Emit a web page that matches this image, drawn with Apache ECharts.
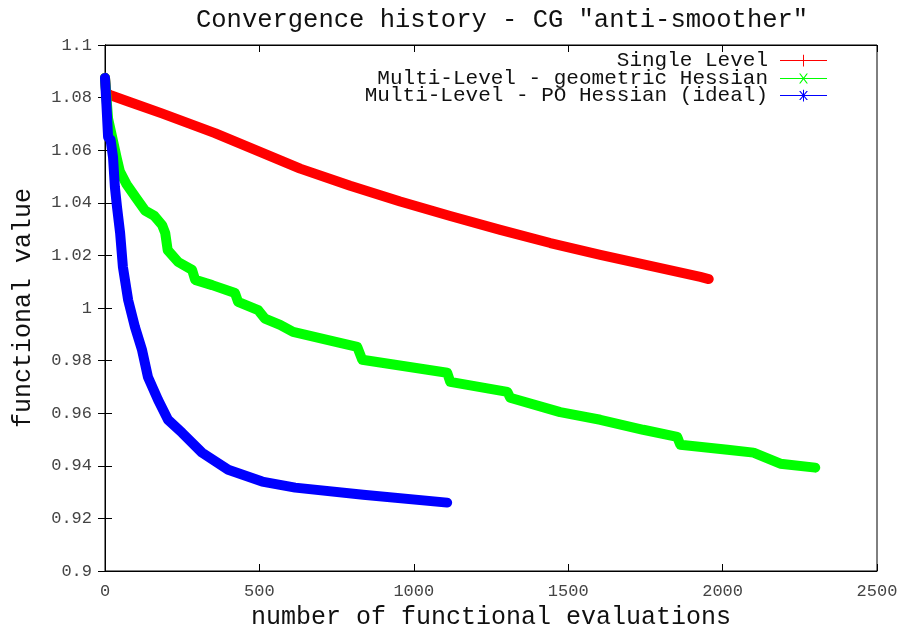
<!DOCTYPE html>
<html>
<head>
<meta charset="utf-8">
<script src="https://cdn.jsdelivr.net/npm/echarts@6/dist/echarts.min.js"></script>
<style>html,body{margin:0;padding:0;background:#fff}#c{width:904px;height:627px}</style>
</head>
<body>
<div id="c"></div>
<script>
// ---- data ----
const titleText = 'Convergence history - CG "anti-smoother"';
const xName = 'number of functional evaluations';
const yName = 'functional value';
const seriesNames = ['Single Level', 'Multi-Level - geometric Hessian', 'Multi-Level - PO Hessian (ideal)'];
const xTicks = [0, 500, 1000, 1500, 2000, 2500];
const yTicks = [0.9, 0.92, 0.94, 0.96, 0.98, 1, 1.02, 1.04, 1.06, 1.08, 1.1];

const redX = [0, 4, 16, 75, 184, 356, 500, 632, 794, 956, 1118, 1280, 1442, 1604, 1766, 1928, 1955];
const redY = [1.0875, 1.0818, 1.081, 1.0785, 1.074, 1.0665, 1.0595, 1.053, 1.0465, 1.0405, 1.035, 1.0297, 1.0247, 1.0202, 1.016, 1.0118, 1.011];

const greenX = [0, 10, 25, 38, 48, 70, 100, 130, 160, 185, 195, 203, 237, 282, 292, 347, 421, 431, 496, 518, 567, 609, 761, 817, 833, 1108, 1118, 1303, 1312, 1474, 1604, 1743, 1853, 1863, 2016, 2100, 2187, 2300];
const greenY = [1.0875, 1.072, 1.064, 1.057, 1.052, 1.047, 1.042, 1.037, 1.035, 1.0315, 1.0285, 1.022, 1.0175, 1.0145, 1.0107, 1.0087, 1.0057, 1.0023, 0.9992, 0.996, 0.9936, 0.9909, 0.9867, 0.9852, 0.9803, 0.9754, 0.9719, 0.9681, 0.9659, 0.9604, 0.9575, 0.9537, 0.951, 0.948, 0.9461, 0.945, 0.9408, 0.9393];

const blueX = [0, 5, 10, 18, 26, 32, 39, 49, 58, 75, 97, 120, 139, 172, 204, 250, 314, 399, 509, 616, 836, 1108];
const blueY = [1.0875, 1.0765, 1.065, 1.064, 1.0573, 1.046, 1.0383, 1.0285, 1.0156, 1.003, 0.9928, 0.984, 0.9738, 0.965, 0.9575, 0.9525, 0.945, 0.9385, 0.934, 0.9317, 0.929, 0.926];

// ---- chart ----
const FONT = "'Liberation Mono', 'DejaVu Sans Mono', monospace";
const colors = ['#ff0000', '#00ff00', '#0000ff'];
const zip = (xs, ys) => xs.map((x, i) => [x, ys[i]]);

const hline = 'M0,6.5 L48,6.5 L48,7.5 L0,7.5 Z ';
const icons = [
  'path://' + hline + 'M23.5,1 L24.5,1 L24.5,13 L23.5,13 Z',
  'path://' + hline + 'M19.5,2 L20.9,2 L28.5,12 L27.1,12 Z M27.1,2 L28.5,2 L20.9,12 L19.5,12 Z',
  'path://' + hline + 'M23.5,1 L24.5,1 L24.5,13 L23.5,13 Z M19.5,2.5 L20.9,2.5 L28.5,11.5 L27.1,11.5 Z M27.1,2.5 L28.5,2.5 L20.9,11.5 L19.5,11.5 Z'
];
const legendTops = [50, 68, 85];

const chart = echarts.init(document.getElementById('c'), null, {renderer: 'canvas'});
const fmtY = v => String(parseFloat(Number(v).toFixed(2)));
const fmtX = v => String(Math.round(v));

chart.setOption({
  animation: false,
  backgroundColor: '#fff',
  title: {
    text: titleText, left: 191, top: 2,
    textStyle: {fontFamily: FONT, fontSize: 25.5, fontWeight: 'normal', color: '#111'}
  },
  legend: seriesNames.map((n, i) => ({
    data: [{name: n, icon: icons[i]}],
    orient: 'vertical', align: 'right', right: 77, top: legendTops[i],
    itemWidth: 47, itemHeight: 14, padding: 0, selectedMode: false,
    textStyle: {fontFamily: FONT, fontSize: 21, color: '#111', padding: [0, 7, 0, 0]}
  })),
  grid: {left: 105, right: 27, top: 45, bottom: 56, show: true, borderColor: '#000', borderWidth: 1,
         containLabel: false, outerBoundsMode: 'none'},
  xAxis: [{
    type: 'value', min: xTicks[0], max: xTicks[xTicks.length - 1], interval: 500,
    name: xName, nameLocation: 'middle', nameGap: 31,
    nameTextStyle: {fontFamily: FONT, fontSize: 25, color: '#111'},
    axisLine: {show: true, lineStyle: {color: '#000', width: 1}},
    axisTick: {show: true, inside: true, length: 7, lineStyle: {color: '#000'}},
    axisLabel: {fontFamily: FONT, fontSize: 17, color: '#444', margin: 12, formatter: fmtX},
    splitLine: {show: false}
  }, {
    type: 'value', position: 'top', min: xTicks[0], max: xTicks[xTicks.length - 1], interval: 500,
    axisLine: {show: true, lineStyle: {color: '#000', width: 1}},
    axisTick: {show: true, inside: true, length: 7, lineStyle: {color: '#000'}},
    axisLabel: {show: false}, splitLine: {show: false}
  }],
  yAxis: [{
    type: 'value', min: yTicks[0], max: yTicks[yTicks.length - 1], interval: 0.02,
    name: yName, nameLocation: 'middle', nameGap: 69, nameRotate: 90,
    nameTextStyle: {fontFamily: FONT, fontSize: 25, color: '#111'},
    axisLine: {show: true, lineStyle: {color: '#000', width: 1}},
    axisTick: {show: true, inside: true, length: 7, lineStyle: {color: '#000'}},
    axisLabel: {fontFamily: FONT, fontSize: 17, color: '#444', margin: 13, formatter: fmtY},
    splitLine: {show: false}
  }, {
    type: 'value', position: 'right', min: yTicks[0], max: yTicks[yTicks.length - 1], interval: 0.02,
    axisLine: {show: true, lineStyle: {color: '#000', width: 1}},
    axisTick: {show: true, inside: true, length: 7, lineStyle: {color: '#000'}},
    axisLabel: {show: false}, splitLine: {show: false}
  }],
  series: [
    {name: seriesNames[0], data: zip(redX, redY)},
    {name: seriesNames[1], data: zip(greenX, greenY)},
    {name: seriesNames[2], data: zip(blueX, blueY)}
  ].map((s, i) => Object.assign(s, {
    type: 'line', xAxisIndex: 0, yAxisIndex: 0, symbol: 'none', showSymbol: false,
    color: colors[i], itemStyle: {color: colors[i]},
    lineStyle: {color: colors[i], width: 10, cap: 'round', join: 'round'},
    z: 2 + i
  }))
});
</script>
</body>
</html>
